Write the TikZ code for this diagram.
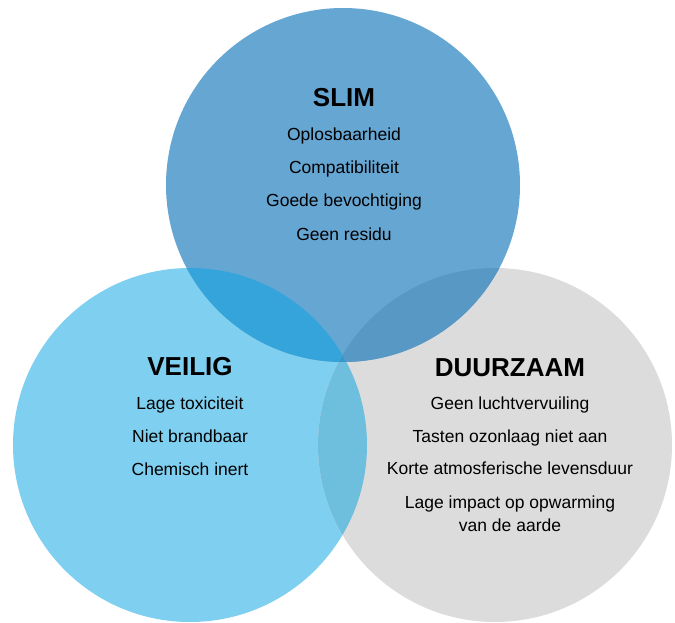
\documentclass[tikz,border=0pt]{standalone}
\usepackage{fontspec}
\setmainfont{Liberation Sans}

\definecolor{slimkleur}{HTML}{66A6D2}
\definecolor{veiligkleur}{HTML}{7FD0F0}
\definecolor{duurzaamkleur}{HTML}{DCDCDC}
\definecolor{slimveilig}{HTML}{34A4DA}
\definecolor{slimduurzaam}{HTML}{5898C4}
\definecolor{veiligduurzaam}{HTML}{6EBEDD}
\definecolor{allekleur}{HTML}{3697C8}

\tikzset{
  cirkel/.style={circle, minimum size=354pt, inner sep=0pt},
  kop/.style={font=\fontsize{26}{30}\selectfont\bfseries, anchor=base},
  punt/.style={font=\fontsize{17.5}{21}\selectfont, anchor=base},
}

\begin{document}
\begin{tikzpicture}[x=1pt, y=-1pt]
            \useasboundingbox (0,0) rectangle (675,623);

            % de drie cirkels
            \node[cirkel, fill=veiligkleur] (veilig) at (190,445) {};
            \node[cirkel, fill=duurzaamkleur] (duurzaam) at (495,445) {};
            \node[cirkel, fill=slimkleur] (slim) at (343,185) {};

            % overlappingen
            \begin{scope}
                \clip (slim.center) circle (177pt);
                \fill[slimveilig] (veilig.center) circle (177pt);
                \fill[slimduurzaam] (duurzaam.center) circle (177pt);
            \end{scope}
            \begin{scope}
                \clip (veilig.center) circle (177pt);
                \fill[veiligduurzaam] (duurzaam.center) circle (177pt);
                \clip (slim.center) circle (177pt);
                \fill[allekleur] (duurzaam.center) circle (177pt);
            \end{scope}

            % SLIM
            \node[kop] (slimkop) at (344,107) {SLIM};
            \node[punt] (slim1) at (344,141) {Oplosbaarheid};
            \node[punt] (slim2) at (344,174) {Compatibiliteit};
            \node[punt] (slim3) at (344,207) {Goede bevochtiging};
            \node[punt] (slim4) at (344,240) {Geen residu};

            % VEILIG
            \node[kop] (veiligkop) at (190,375) {VEILIG};
            \node[punt] (veilig1) at (190,409) {Lage toxiciteit};
            \node[punt] (veilig2) at (190,442) {Niet brandbaar};
            \node[punt] (veilig3) at (190,475) {Chemisch inert};

            % DUURZAAM
            \node[kop] (duurzaamkop) at (510,376) {DUURZAAM};
            \node[punt] (duurzaam1) at (510,409) {Geen luchtvervuiling};
            \node[punt] (duurzaam2) at (510,442) {Tasten ozonlaag niet aan};
            \node[punt] (duurzaam3) at (510,474) {Korte atmosferische levensduur};
            \node[punt] (duurzaam4) at (510,508) {Lage impact op opwarming};
            \node[punt] (duurzaam5) at (510,531) {van de aarde};
        \end{tikzpicture}
\end{document}
